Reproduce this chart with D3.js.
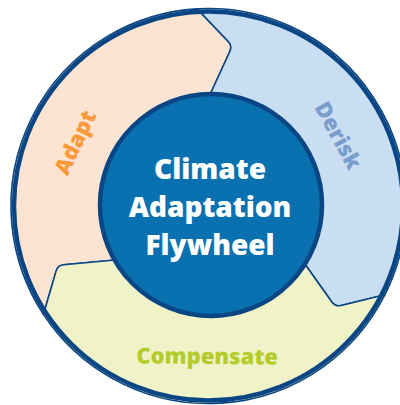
<!DOCTYPE html>
<html><head><meta charset="utf-8">
<script src="https://cdn.jsdelivr.net/npm/d3@7"></script>
<style>
body{margin:0;background:#fff}
svg{display:block}
text{font-family:"Open Sans",sans-serif;font-weight:800}
</style>
</head><body><script>
// segments of the wheel, clockwise from upper left
const labels = ["Adapt", "Derisk", "Compensate"];
const shares = [1, 1, 1];
const fills = ["#fde4d2", "#c9def3", "#f0f3c7"];
const textColors = ["#f99a3d", "#7b9dcb", "#b4cc2b"];
const title = ["Climate", "Adaptation", "Flywheel"];

const width = 400, height = 405;
const cx = 208.5, cy = 206;
const rOuter = 194.5, rInner = 111, rTip = 162;
const navy = "#0b4684";
const rad = d => d * Math.PI / 180;
const deg = r => r * 180 / Math.PI;
const pt = (r, a) => [cx + r * Math.sin(a), cy - r * Math.cos(a)];

const svg = d3.select("body").append("svg")
    .attr("width", width)
    .attr("height", height);

const pie = d3.pie().sort(null).startAngle(rad(-121.5)).endAngle(rad(238.5));
const arcs = pie(shares);

// boundary shape: outer foot slightly behind, inner foot ahead, tip further ahead
const dOut = rad(-1.8), dIn = rad(1.5), dTip = rad(10);

function corner(p, A, T, B, rr) {
    const la = Math.hypot(A[0] - T[0], A[1] - T[1]);
    const lb = Math.hypot(B[0] - T[0], B[1] - T[1]);
    p.lineTo(T[0] + (A[0] - T[0]) * rr / la, T[1] + (A[1] - T[1]) * rr / la);
    p.quadraticCurveTo(T[0], T[1], T[0] + (B[0] - T[0]) * rr / lb, T[1] + (B[1] - T[1]) * rr / lb);
}

function segPath(d) {
    const a0 = d.startAngle, a1 = d.endAngle;
    const ro = rOuter + 3, ri = rInner - 3;
    const p = d3.path();
    const O0 = pt(ro, a0 + dOut), O1 = pt(ro, a1 + dOut);
    const I0 = pt(ri, a0 + dIn), I1 = pt(ri, a1 + dIn);
    const T0 = pt(rTip, a0 + dTip), T1 = pt(rTip, a1 + dTip);
    p.moveTo(O0[0], O0[1]);
    p.arc(cx, cy, ro, a0 + dOut - Math.PI / 2, a1 + dOut - Math.PI / 2, false);
    corner(p, O1, T1, I1, 6);
    p.lineTo(I1[0], I1[1]);
    p.arc(cx, cy, ri, a1 + dIn - Math.PI / 2, a0 + dIn - Math.PI / 2, true);
    corner(p, I0, T0, O0, 6);
    p.closePath();
    return p.toString();
}

svg.append("g").selectAll("path")
    .data(arcs)
    .join("path")
    .attr("d", segPath)
    .attr("fill", (d, i) => fills[i])
    .attr("stroke", navy)
    .attr("stroke-width", 1.6)
    .attr("stroke-linejoin", "round");

// outer rim
svg.append("circle")
    .attr("cx", cx).attr("cy", cy).attr("r", rOuter)
    .attr("fill", "none")
    .attr("stroke", navy)
    .attr("stroke-width", 4.5);

// segment labels
const labelShift = [-3, 3, 2];
svg.append("g").selectAll("text")
    .data(arcs)
    .join("text")
    .attr("transform", (d, i) => {
        const a = (d.startAngle + d.endAngle) / 2 + rad(labelShift[i]);
        const [x, y] = pt(149, a);
        let r = deg(a);
        if (r > 90 && r < 270) r -= 180;
        return `translate(${x},${y}) rotate(${r})`;
    })
    .attr("text-anchor", "middle")
    .attr("dominant-baseline", "central")
    .attr("font-size", 22)
    .attr("fill", (d, i) => textColors[i])
    .text((d, i) => labels[i]);

// hub
svg.append("circle")
    .attr("cx", 211).attr("cy", 205).attr("r", 111)
    .attr("fill", "#0a71b0")
    .attr("stroke", navy)
    .attr("stroke-width", 4.5);

svg.append("text")
    .attr("x", 210)
    .attr("y", 179)
    .attr("text-anchor", "middle")
    .attr("font-size", 28)
    .attr("fill", "#fff")
    .selectAll("tspan")
    .data(title)
    .join("tspan")
    .attr("x", 210)
    .attr("dy", (d, i) => i ? 38 : 0)
    .text(d => d);
</script></body></html>
